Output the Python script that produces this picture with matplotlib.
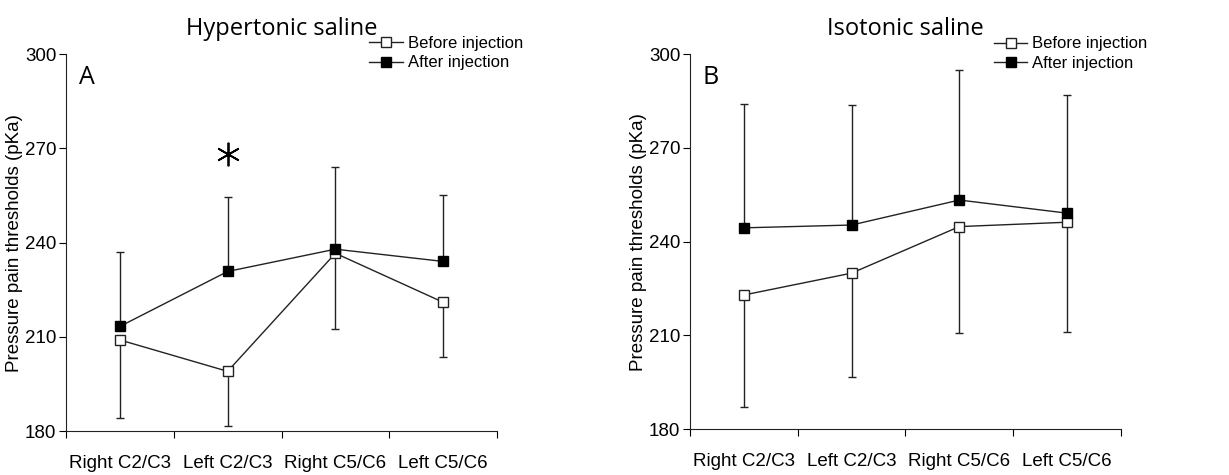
import matplotlib.pyplot as plt
from matplotlib.lines import Line2D
import numpy as np

sites = ['Right C2/C3', 'Left C2/C3', 'Right C5/C6', 'Left C5/C6']
yticks = [180, 210, 240, 270, 300]

# hypertonic saline (A)
hyper_before = [209, 199, 236.6, 221]
hyper_before_low = [184.3, 181.6, 212.4, 203.7]
hyper_after = [213.3, 230.8, 237.9, 234]
hyper_after_high = [237.1, 254.5, 264.2, 255]

# isotonic saline (B)
iso_before = [222.9, 229.9, 244.8, 246.2]
iso_before_low = [187.2, 196.5, 210.6, 211.2]
iso_after = [244.4, 245.3, 253.3, 249.1]
iso_after_high = [284, 283.6, 295, 286.8]

tick_font = 'Liberation Sans'
title_font = 'Open Sans'


def draw_panel(ax, before, before_low, after, after_high, title, letter, leg_x):
    x = np.arange(len(sites))
    before = np.array(before)
    after = np.array(after)
    low_err = before - np.array(before_low)
    high_err = np.array(after_high) - after
    ax.errorbar(x, before, yerr=[low_err, np.zeros_like(low_err)], fmt='none',
                ecolor='#222222', elinewidth=1, capsize=3, capthick=1, zorder=2)
    ax.errorbar(x, after, yerr=[np.zeros_like(high_err), high_err], fmt='none',
                ecolor='#222222', elinewidth=1, capsize=3, capthick=1, zorder=2)
    ax.plot(x, before, '-s', color='#222222', lw=1, markersize=7.5,
            markerfacecolor='white', markeredgecolor='#222222', zorder=3)
    ax.plot(x, after, '-s', color='#222222', lw=1, markersize=7.5,
            markerfacecolor='black', markeredgecolor='black', zorder=4)

    ax.set_xlim(-0.5, 3.5)
    ax.set_ylim(180, 300)
    ax.set_yticks(yticks)
    ax.set_yticklabels([str(t) for t in yticks], family=tick_font, fontsize=13.5)
    ax.set_xticks([-0.5, 0.5, 1.5, 2.5, 3.5])
    ax.set_xticklabels([])
    ax.set_xticks(x, minor=True)
    ax.set_xticklabels(sites, minor=True, family=tick_font, fontsize=13.5)
    ax.tick_params(axis='x', which='minor', length=0, pad=17)
    ax.tick_params(axis='x', which='major', length=5, direction='out')
    ax.tick_params(axis='y', length=5, direction='out', pad=2)
    for s in ['top', 'right']:
        ax.spines[s].set_visible(False)
    for s in ['left', 'bottom']:
        ax.spines[s].set_color('#222222')
    ax.set_ylabel('Pressure pain thresholds (pKa)', family=tick_font, fontsize=13.5)
    ax.yaxis.set_label_coords(-0.1, 0.5)
    ax.set_title(title, family=title_font, fontsize=17, pad=14)
    ax.text(-0.38, 292.5, letter, family=title_font, fontsize=18, ha='left', va='center')

    handles = [
        Line2D([0], [0], color='#222222', lw=1, marker='s', markersize=7,
               markerfacecolor='white', markeredgecolor='#222222'),
        Line2D([0], [0], color='#222222', lw=1, marker='s', markersize=7,
               markerfacecolor='black', markeredgecolor='black'),
    ]
    ax.legend(handles, ['Before injection', 'After injection'], loc='upper left',
              bbox_to_anchor=(leg_x, 1.065), frameon=False, handlelength=2.0,
              handletextpad=0.3, labelspacing=0.25, borderaxespad=0,
              prop={'family': tick_font, 'size': 12})


fig = plt.figure(figsize=(12.29, 4.75), dpi=100)
ax1 = fig.add_axes([0.0537, 0.0926, 0.3507, 0.7934])
ax2 = fig.add_axes([0.5614, 0.0968, 0.3507, 0.7892])

draw_panel(ax1, hyper_before, hyper_before_low, hyper_after, hyper_after_high,
           'Hypertonic saline', 'A', 0.688)
draw_panel(ax2, iso_before, iso_before_low, iso_after, iso_after_high,
           'Isotonic saline', 'B', 0.69)

# significance marker
ax1.plot(1, 268.2, marker=(6, 2, 0), markersize=17, color='black', mew=1.3)

fig.savefig('out.png', dpi=100)
